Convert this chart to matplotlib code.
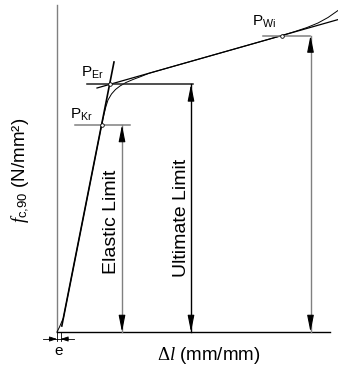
import matplotlib
matplotlib.use("Agg")
import matplotlib.pyplot as plt

plt.rcParams['font.family'] = ['Liberation Sans', 'DejaVu Sans']
plt.rcParams['mathtext.fontset'] = 'custom'
plt.rcParams['mathtext.rm'] = 'Liberation Serif'
plt.rcParams['mathtext.it'] = 'Liberation Serif:italic'
plt.rcParams['mathtext.sf'] = 'Liberation Sans'

# load-deformation curve (schematic units)
curve_x = [0, 2.5, 4.6, 6.4, 44.6, 46.8, 48.8, 51, 54.5, 58.5, 63, 69, 76, 84, 92,
           120, 180, 225, 238, 250, 261, 271, 281]
curve_y = [0, 5, 10, 14, 207, 217, 225, 232, 238, 242.5, 246, 249.5, 252.5, 255.5, 258.7,
           266.7, 283.7, 296.5, 300.5, 304.5, 309, 314.5, 321.5]

# tangent lines
elastic_x = [4.8, 57]
elastic_y = [6, 270]
plastic_x = [40, 281]
plastic_y = [244, 312.4]

# characteristic points
p_names = ['Kr', 'Er', 'Wi']
p_x = [44.6, 52.6, 225]
p_y = [207, 247.6, 296.5]
p_label_x = [24, 35, 207]
p_label_y = [217, 259, 310]

# horizontal helper lines at the points
h_x0 = [18, 30, 206]
h_x1 = [73, 136, 253]

# vertical dimension arrows
arrow_x = [65, 134, 253.5]
arrow_top = [207, 247.6, 296.5]
arrow_col = ['#808080', 'black', '#808080']
limit_text = ['Elastic Limit', 'Ultimate Limit']
limit_tx = [54, 124]
limit_ty = [110, 114]

e_offset = 3.6

fig = plt.figure(figsize=(3.38, 3.78), dpi=100)
ax = fig.add_axes([0, 0, 1, 1])
ax.set_xlim(-57, 281)
ax.set_ylim(-46, 332)
ax.axis('off')

# axes
ax.plot([0, 0], [0, 327], color='#808080', lw=1.0)
ax.plot([0, 273], [0, 0], color='black', lw=1.0)

ax.plot(elastic_x, elastic_y, color='black', lw=1.2)
ax.plot(plastic_x, plastic_y, color='black', lw=0.9)
ax.plot(curve_x, curve_y, color='black', lw=0.7)

hcol = ['#808080', '#202020', '#808080']
for i in range(3):
    ax.plot([h_x0[i], h_x1[i]], [p_y[i], p_y[i]], color=hcol[i], lw=1.1)

ax.plot(p_x, p_y, 'o', ms=2.6, mfc='white', mec='black', mew=0.6, zorder=5)

for i in range(3):
    ax.text(p_label_x[i], p_label_y[i], r'$\mathsf{P}_{\mathsf{%s}}$' % p_names[i],
            fontsize=11, ha='center', va='center')

head = dict(arrowstyle='-|>,head_length=1.0,head_width=0.2', mutation_scale=10,
            color='black', lw=0.8, shrinkA=0, shrinkB=0)
for i in range(3):
    ax.plot([arrow_x[i], arrow_x[i]], [0, arrow_top[i]], color=arrow_col[i], lw=1.0)
    ax.annotate('', xy=(arrow_x[i], arrow_top[i]), xytext=(arrow_x[i], arrow_top[i] - 14),
                arrowprops=head)
    ax.annotate('', xy=(arrow_x[i], 0), xytext=(arrow_x[i], 14), arrowprops=head)

for i in range(2):
    ax.text(limit_tx[i], limit_ty[i], limit_text[i], rotation=90, fontsize=14,
            ha='center', va='center')

# e dimension
ax.plot([0, 0], [0, -9], color='black', lw=0.6)
ax.plot([e_offset, e_offset], [0, -9], color='black', lw=0.6)
ax.plot([-14, 17], [-7, -7], color='black', lw=0.6)
small = dict(arrowstyle='-|>,head_length=0.9,head_width=0.3', mutation_scale=5,
             color='black', lw=0.6, shrinkA=0, shrinkB=0)
ax.annotate('', xy=(0, -7), xytext=(-8, -7), arrowprops=small)
ax.annotate('', xy=(e_offset, -7), xytext=(e_offset + 8, -7), arrowprops=small)
ax.text(2, -19, 'e', fontsize=11, ha='center', va='center')

ax.text(-37, 162, r'$\mathit{f}_{\mathsf{c{,}90}}$ (N/mm²)', rotation=90, fontsize=13.5,
        ha='center', va='center')
ax.text(152, -23, r'$\Delta\mathit{l}$ (mm/mm)', fontsize=13.5, ha='center', va='center')

fig.savefig('out.png', dpi=100)
